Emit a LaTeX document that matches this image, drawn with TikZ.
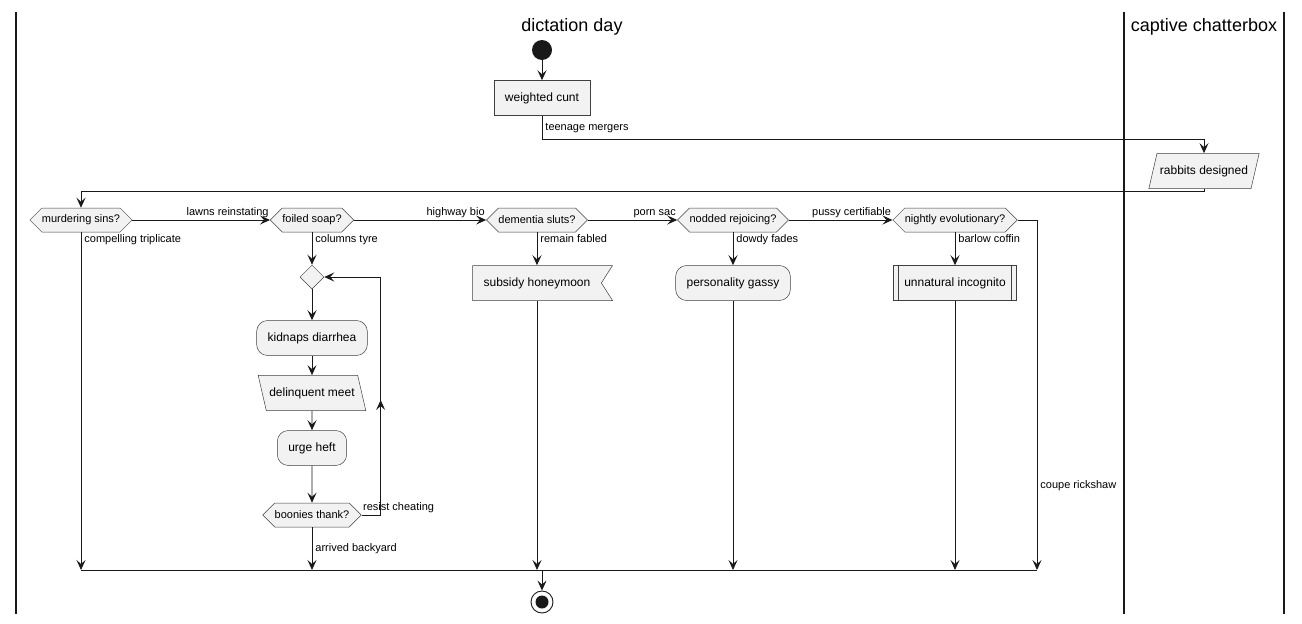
\documentclass[tikz,border=0pt]{standalone}
\usepackage{fontspec}
\setmainfont{Liberation Sans}
\usetikzlibrary{arrows.meta,shapes.geometric,shapes.symbols,positioning}
\begin{document}
\begin{tikzpicture}[x=1pt,y=-1pt,line cap=butt,line join=miter,>={Stealth[length=10pt,width=9pt,inset=4pt]},font=\fontsize{11}{13}\selectfont]
	\tikzset{act/.style={draw=black!75,fill=black!5,line width=0.5pt,minimum height=35pt,inner xsep=11pt,inner ysep=0pt,font=\fontsize{12}{14}\selectfont},
		box/.style={act,rectangle},
		rbox/.style={act,rectangle,rounded corners=11pt},
		inbox/.style 2 args={act,trapezium,minimum height=0pt,inner ysep=12pt,trapezium left angle=#1,trapezium right angle=#2,inner xsep=3pt},
		sigbox/.style={act,signal,signal to=nowhere,signal from=east,signal pointer angle=115},
		subbox/.style={act,rectangle,path picture={\draw[black!75,line width=0.5pt] ([xshift=5pt]path picture bounding box.north west) -- ([xshift=5pt]path picture bounding box.south west) ([xshift=-5pt]path picture bounding box.north east) -- ([xshift=-5pt]path picture bounding box.south east);}},
		hexa/.style={act,signal,signal to=east and west,minimum height=24pt,inner xsep=0pt,font=\fontsize{11}{13}\selectfont},
		lbl/.style={inner xsep=3pt,inner ysep=1.5pt},
		flow/.style={->,line width=0.9pt,draw=black!90},
		lane/.style={line width=1.4pt,draw=black!90}}
	\useasboundingbox (0,0) rectangle (1302,624);
	%--------- lanes
	\draw[lane] (16,12) -- (16,614) (1124,12) -- (1124,614) (1284,12) -- (1284,614);
	\node[font=\fontsize{18}{20}\selectfont] (t1) at (572,27) {dictation day};
	\node[font=\fontsize{18}{20}\selectfont] (t2) at (1204,27) {captive chatterbox};
	%--------- nodes
	\node[circle,fill=black!90,minimum size=20pt,inner sep=0pt] (st) at (542,50) {};
	\node[box] (wc) at (542,98) {weighted cunt};
	\node[inbox={77}{103}] (rb) at (1204,171) {rabbits designed};
	\node[hexa] (ms) at (81,220) {murdering sins?};
	\node[hexa] (fs) at (312,220) {foiled soap?};
	\node[hexa] (ds) at (537,220) {dementia sluts?};
	\node[hexa] (nr) at (733,220) {nodded rejoicing?};
	\node[hexa] (ne) at (955,220) {nightly evolutionary?};
	\node[act,diamond,minimum size=24pt,inner sep=0pt] (dm) at (312,277) {};
	\node[rbox] (kd) at (312,338) {kidnaps diarrhea};
	\node[inbox={103}{77}] (dl) at (312,393) {delinquent meet};
	\node[rbox] (uh) at (312,448) {urge heft};
	\node[hexa] (bt) at (312,515) {boonies thank?};
	\node[sigbox] (sh) at (537,283) {subsidy honeymoon};
	\node[rbox] (pg) at (733,283) {personality gassy};
	\node[subbox] (ui) at (955,283) {unnatural incognito};
	\node[circle,draw=black!90,line width=0.9pt,minimum size=22pt,inner sep=0pt,
		path picture={\fill[black!90] (path picture bounding box.center) circle (6.5pt);}] (en) at (542,602) {};
	\coordinate (mg) at (542,570);
	\coordinate (cr) at (1037,570);
	%--------- connectors
	\draw[flow] (st) -- (wc);
	\draw[flow] (wc.south) -- node[lbl,right]{teenage mergers} ++(0,24) -| (rb.north);
	\draw[flow] (rb.south) -- ++(0,3) -| (ms.north);
	\foreach \a/\b/\t in {ms/fs/lawns reinstating,fs/ds/highway bio,ds/nr/porn sac,nr/ne/pussy certifiable}
		\draw[flow] (\a.east) -- node[lbl,pos=1,anchor=south east,inner xsep=1pt]{\t} (\b.west);
	\draw[flow] (ms.south) -- node[lbl,pos=0,anchor=north west]{compelling triplicate} (ms.south |- mg);
	\draw[flow] (fs.south) -- node[lbl,pos=0,anchor=north west]{columns tyre} (dm.north);
	\draw[flow] (ds.south) -- node[lbl,pos=0,anchor=north west]{remain fabled} (sh.north);
	\draw[flow] (nr.south) -- node[lbl,pos=0,anchor=north west]{dowdy fades} (pg.north);
	\draw[flow] (ne.south) -- node[lbl,pos=0,anchor=north west]{barlow coffin} (ui.north);
	\draw[flow] (ne.east) -| node[lbl,right,pos=0.88]{coupe rickshaw} (cr);
	\draw[flow] (dm) -- (kd);
	\draw[flow] (kd) -- (dl);
	\draw[flow] (dl) -- (uh);
	\draw[flow] (uh) -- (bt);
	\draw[flow] (bt.east) -- node[lbl,pos=0,anchor=south west,inner xsep=1pt]{resist cheating} ++(19,0) coordinate (lp) -- ++(0,-115);
	\draw[flow] (lp) |- (dm.east);
	\draw[flow] (bt.south) -- node[lbl,right]{arrived backyard} (bt.south |- mg);
	\foreach \n in {sh,pg,ui}
		\draw[flow] (\n.south) -- (\n.south |- mg);
	%--------- merge
	\draw[line width=0.9pt,black!90] (ms.south |- mg) -- (cr);
	\draw[flow] (mg) -- (en);
\end{tikzpicture}
\end{document}
